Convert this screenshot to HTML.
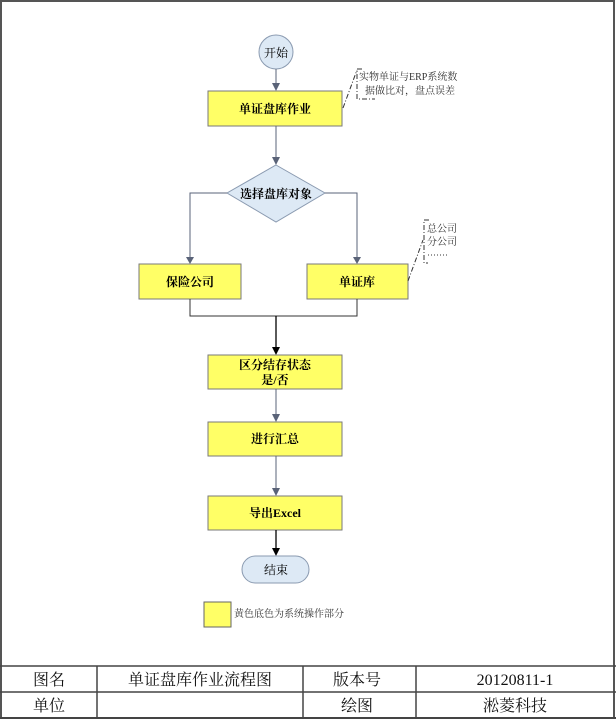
<!DOCTYPE html>
<html><head><meta charset="utf-8"><style>
html,body{margin:0;padding:0;background:#fff;width:616px;height:720px;overflow:hidden}
svg{display:block}
text{font-family:"Liberation Serif","Noto Serif CJK SC","Noto Sans CJK SC",serif}
</style></head><body>
<svg width="616" height="720" viewBox="0 0 616 720" xmlns="http://www.w3.org/2000/svg">
<defs>
<marker id="ag" markerWidth="8" markerHeight="8" refX="4" refY="7" orient="auto" markerUnits="userSpaceOnUse"><path d="M0,0 L8,0 L4,8 z" transform="translate(0,0)" fill="#5a6378"/></marker>
</defs>
<rect x="1" y="1" width="613" height="717" fill="#fff" stroke="#555" stroke-width="2"/>
<!-- start -->
<circle cx="276" cy="52" r="17" fill="#dde9f5" stroke="#8a9ab0" stroke-width="1"/>
<text x="276" y="57" font-size="12" text-anchor="middle" fill="#000">开始</text>
<line x1="276" y1="69" x2="276" y2="84" stroke="#5a6378"/><path d="M272,83 L280,83 L276,91 z" fill="#5a6378"/>
<rect x="208" y="91" width="134" height="35" fill="#ffff66" stroke="#7a7a7a"/>
<text x="275" y="113" font-size="12" font-weight="bold" text-anchor="middle">单证盘库作业</text>
<line x1="276" y1="126" x2="276" y2="158" stroke="#5a6378"/><path d="M272,157 L280,157 L276,165 z" fill="#5a6378"/>
<!-- annotation1 -->
<path d="M343,108 L357,70" stroke="#333" stroke-dasharray="5,2,1,2" fill="none"/>
<path d="M362,69 L357,69 L357,99 L375,99" stroke="#333" stroke-dasharray="5,2,1,2" fill="none"/>
<text x="359" y="80" font-size="10" fill="#333">实物单证与ERP系统数</text>
<text x="365" y="94" font-size="10" fill="#333">据做比对，盘点误差</text>
<!-- diamond -->
<path d="M276,165 L325,193 L276,222 L227,193 z" fill="#dde9f5" stroke="#8a9ab0"/>
<text x="276" y="198" font-size="12" font-weight="bold" text-anchor="middle">选择盘库对象</text>
<path d="M227,193 L190,193 L190,258" stroke="#5a6378" fill="none"/><path d="M186,257 L194,257 L190,264 z" fill="#5a6378"/>
<path d="M325,193 L357,193 L357,258" stroke="#5a6378" fill="none"/><path d="M353,257 L361,257 L357,264 z" fill="#5a6378"/>
<rect x="139" y="264" width="102" height="35" fill="#ffff66" stroke="#7a7a7a"/>
<text x="190" y="286" font-size="12" font-weight="bold" text-anchor="middle">保险公司</text>
<rect x="307" y="264" width="101" height="35" fill="#ffff66" stroke="#7a7a7a"/>
<text x="357" y="286" font-size="12" font-weight="bold" text-anchor="middle">单证库</text>
<!-- annotation2 -->
<path d="M408,281 L423,240" stroke="#333" stroke-dasharray="5,2,1,2" fill="none"/>
<path d="M429,220 L424,220 L424,263 L428,263" stroke="#333" stroke-dasharray="5,2,1,2" fill="none"/>
<text x="427" y="232" font-size="10" fill="#333">总公司</text>
<text x="427" y="245" font-size="10" fill="#333">分公司</text>
<line x1="428" y1="255" x2="448" y2="255" stroke="#333" stroke-dasharray="1,2"/>
<!-- merge -->
<path d="M190,299 L190,316 L357,316 L357,299" stroke="#333" fill="none"/>
<line x1="276" y1="316" x2="276" y2="348" stroke="#000" stroke-width="1.3"/><path d="M272,347 L280,347 L276,355 z" fill="#000"/>
<rect x="208" y="355" width="134" height="34" fill="#ffff66" stroke="#7a7a7a"/>
<text x="275" y="369" font-size="12" font-weight="bold" text-anchor="middle">区分结存状态</text>
<text x="275" y="384" font-size="12" font-weight="bold" text-anchor="middle">是/否</text>
<line x1="276" y1="389" x2="276" y2="415" stroke="#5a6378"/><path d="M272,414 L280,414 L276,422 z" fill="#5a6378"/>
<rect x="208" y="422" width="134" height="34" fill="#ffff66" stroke="#7a7a7a"/>
<text x="275" y="443" font-size="12" font-weight="bold" text-anchor="middle">进行汇总</text>
<line x1="276" y1="456" x2="276" y2="489" stroke="#5a6378"/><path d="M272,488 L280,488 L276,496 z" fill="#5a6378"/>
<rect x="208" y="496" width="134" height="34" fill="#ffff66" stroke="#7a7a7a"/>
<text x="275" y="517" font-size="12" font-weight="bold" text-anchor="middle">导出Excel</text>
<line x1="276" y1="530" x2="276" y2="549" stroke="#000" stroke-width="1.3"/><path d="M272,548 L280,548 L276,556 z" fill="#000"/>
<rect x="242" y="556" width="67" height="27" rx="13.5" fill="#dde9f5" stroke="#8a9ab0"/>
<text x="276" y="574" font-size="12" text-anchor="middle">结束</text>
<!-- legend -->
<rect x="204" y="602" width="27" height="25" fill="#ffff66" stroke="#666"/>
<text x="234" y="617" font-size="10" fill="#333">黄色底色为系统操作部分</text>
<!-- table -->
<line x1="0" y1="666" x2="616" y2="666" stroke="#444" stroke-width="1.5"/>
<line x1="0" y1="692" x2="616" y2="692" stroke="#444" stroke-width="1.5"/>
<line x1="0" y1="718" x2="616" y2="718" stroke="#444" stroke-width="2"/>
<line x1="97" y1="666" x2="97" y2="718" stroke="#444" stroke-width="1.5"/>
<line x1="303" y1="666" x2="303" y2="718" stroke="#444" stroke-width="1.5"/>
<line x1="416" y1="666" x2="416" y2="718" stroke="#444" stroke-width="1.5"/>
<g font-size="16" text-anchor="middle" fill="#111">
<text x="49" y="685">图名</text>
<text x="200" y="685">单证盘库作业流程图</text>
<text x="357" y="685">版本号</text>
<text x="515" y="685">20120811-1</text>
<text x="49" y="711">单位</text>
<text x="357" y="711">绘图</text>
<text x="515" y="711">淞菱科技</text>
</g>
</svg>
</body></html>
